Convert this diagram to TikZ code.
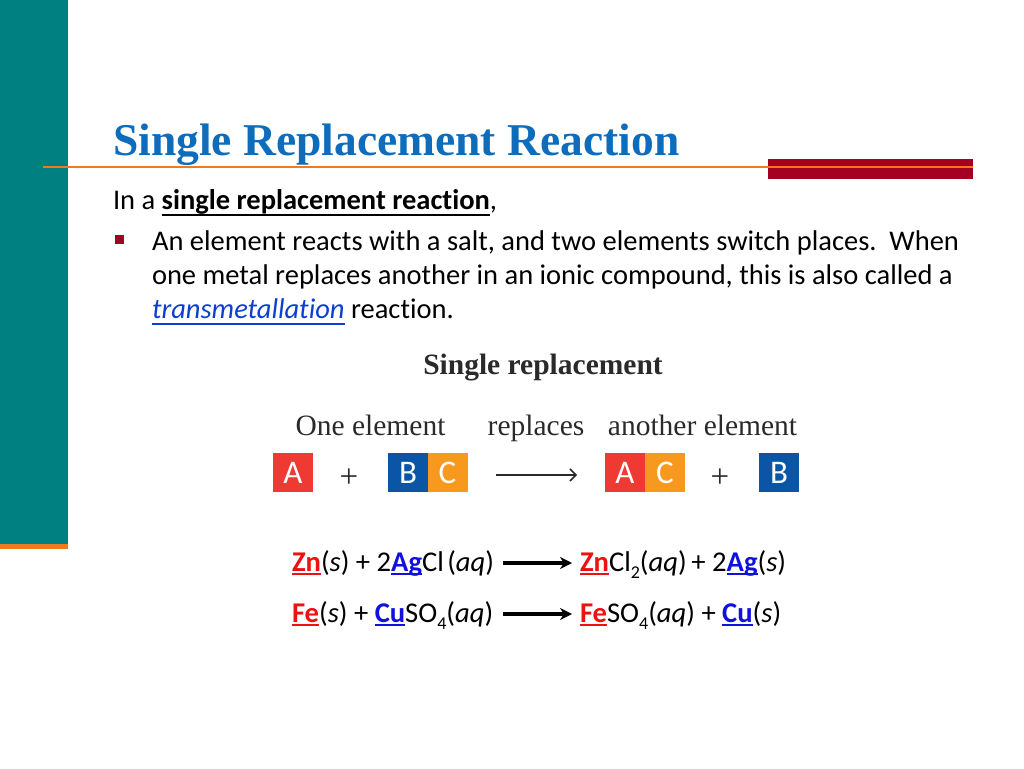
\documentclass[tikz,border=0pt]{standalone}
\usepackage{fontspec}
\setmainfont{Carlito}[Ligatures=NoCommon]
\newfontfamily\serifx{Liberation Serif}
\definecolor{tealbar}{HTML}{008080}
\definecolor{orangeline}{HTML}{F07A1E}
\definecolor{redbar}{HTML}{A50021}
\definecolor{titleblue}{HTML}{0E6CBC}
\definecolor{linkblue}{HTML}{0B3FD0}
\definecolor{boxred}{HTML}{EE3A32}
\definecolor{boxblue}{HTML}{0A55A5}
\definecolor{boxorange}{HTML}{F7991E}
\definecolor{figtext}{HTML}{2A2A2A}
\definecolor{eqred}{HTML}{EE1111}
\definecolor{eqblue}{HTML}{1111DD}
\newcommand\ulin[1]{\setbox0=\hbox{#1}\leavevmode\rlap{\raisebox{-0.15em}{\rule{\wd0}{0.07em}}}\box0}
\newcommand\ulg[1]{\setbox0=\hbox{#1}\leavevmode\rlap{\raisebox{-0.23em}{\rule{\wd0}{0.07em}}}\box0}
\newcommand\rd[1]{\textcolor{eqred}{\ulin{\textbf{#1}}}}
\newcommand\bl[1]{\textcolor{eqblue}{\ulin{\textbf{#1}}}}
\newcommand\subx[1]{\raisebox{-0.25em}{\fontsize{18}{18}\selectfont #1}}
\tikzset{
  x=1pt,y=-1pt,
  txt/.style={anchor=base west,inner sep=0pt,outer sep=0pt,font=\fontsize{28.5}{28.5}\selectfont},
  eq/.style={anchor=base west,inner sep=0pt,outer sep=0pt,font=\fontsize{28.6}{28.6}\selectfont},
  figt/.style={anchor=base,inner sep=0pt,text=figtext,font=\serifx\fontsize{29.5}{29.5}\selectfont},
  plusx/.style={anchor=base,inner sep=0pt,text=figtext,font=\serifx\fontsize{33}{33}\selectfont},
  cell/.style={minimum width=40pt,minimum height=39pt,inner sep=0pt,outer sep=0pt,text=white,font=\fontsize{33}{33}\selectfont},
  eqarrow/.style={line width=3.2pt,-{Stealth[length=12pt,width=12pt]}},
}
\usetikzlibrary{arrows.meta}
\begin{document}
\begin{tikzpicture}
\useasboundingbox (0,0) rectangle (1024,768);
\fill[tealbar] (0,0) rectangle (68,545);
\fill[orangeline] (0,544) rectangle (68,549);
\fill[redbar] (768,158.5) rectangle (973,179);
\draw[orangeline,line width=2.6pt] (43,166.8) -- (973,166.8);
\fill[redbar] (115,235) rectangle (124,244);
\node[anchor=base west,inner sep=0pt,text=titleblue,font=\serifx\bfseries\fontsize{45.5}{45.5}\selectfont] (title) at (113,155) {Single Replacement Reaction};
\node[txt] (intro) at (113,209.5) {In a \ulg{\textbf{single replacement reaction}},};
\node[txt] (l1) at (152,250) {An element reacts with a salt, and two elements switch places.\ \ When};
\node[txt] (l2) at (152,284) {one metal replaces another in an ionic compound, this is also called a};
\node[txt] (l3) at (152,318) {\textcolor{linkblue}{\ulg{\textit{transmetallation}}} reaction.};
\node[figt,font=\serifx\bfseries\fontsize{29.5}{29.5}\selectfont] (figtitle) at (543,374) {Single replacement};
\node[figt] (one) at (370.5,435) {One element};
\node[figt] (rep) at (536,435) {replaces};
\node[figt] (ano) at (702.5,435) {another element};
\node[cell,fill=boxred] (a1) at (293,472.5) {A};
\node[plusx] (p1) at (349,487) {+};
\node[cell,fill=boxblue] (b1) at (408,472.5) {B};
\node[cell,fill=boxorange] (c1) at (447.5,472.5) {C};
\coordinate (as) at (496,475);
\coordinate (ae) at (577,475);
\draw[figtext,line width=1.5pt,-{Straight Barb[length=6pt,width=12pt]}] (as) -- (ae);
\node[cell,fill=boxred] (a2) at (625,472.5) {A};
\node[cell,fill=boxorange] (c2) at (665,472.5) {C};
\node[plusx] (p2) at (720,487) {+};
\node[cell,fill=boxblue] (b2) at (779,472.5) {B};
\node[eq] (e1l) at (292,571) {\rd{Zn}(\textit{s}) + 2\bl{Ag}Cl\hspace{0.12em}(\textit{aq})};
\node[eq] (e1r) at (580,571) {\rd{Zn}Cl\subx{2}(\textit{aq})\,+ 2\bl{Ag}(\textit{s})};
\node[eq] (e2l) at (292,622) {\rd{Fe}(\textit{s}) + \bl{Cu}SO\subx{4}(\textit{aq})};
\node[eq] (e2r) at (580,622) {\rd{Fe}SO\subx{4}(\textit{aq}) + \bl{Cu}(\textit{s})};
\coordinate (s1) at (503,563);
\coordinate (t1) at (572,563);
\coordinate (s2) at (503,614);
\coordinate (t2) at (572,614);
\draw[eqarrow] (s1) -- (t1);
\draw[eqarrow] (s2) -- (t2);
\end{tikzpicture}
\end{document}
